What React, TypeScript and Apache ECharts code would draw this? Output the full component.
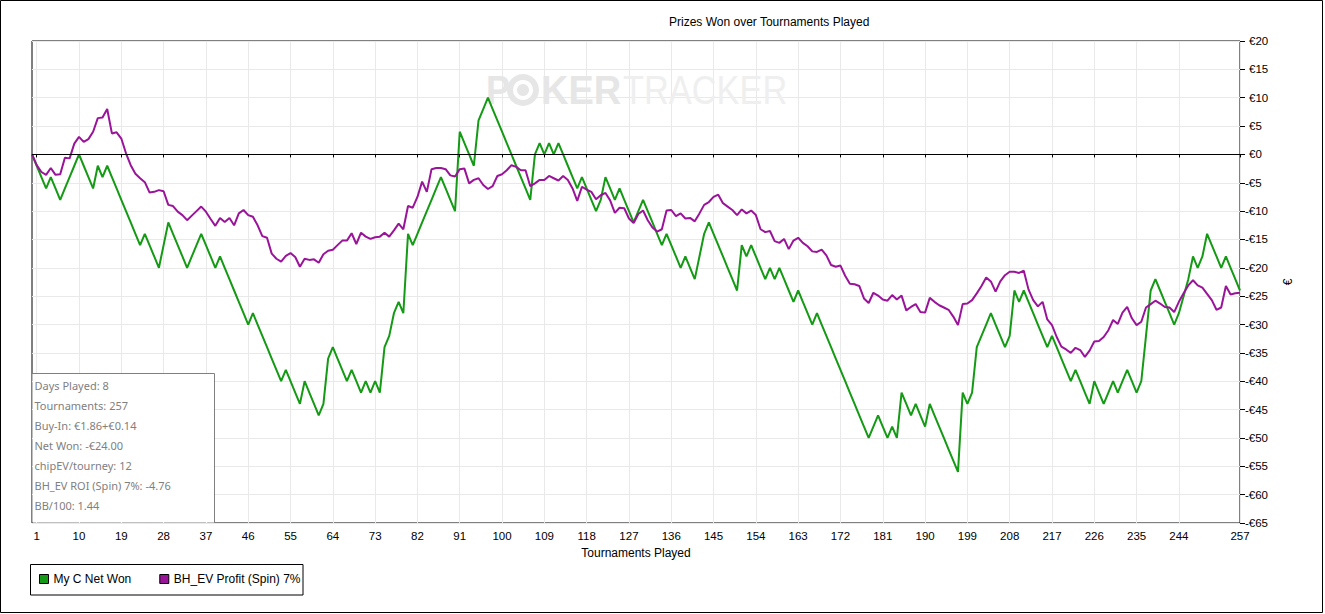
import React, { useEffect, useRef } from "react";
import * as echarts from "echarts";

// categories: tournament index 0..257 (0 = start)
const tournaments: string[] = Array.from({ length: 258 }, (_, i) => String(i));

const netWon: number[] = [
  0, -2, -4, -6, -4, -6, -8, -6, -4, -2,
  0, -2, -4, -6, -2, -4, -2, -4, -6, -8,
  -10, -12, -14, -16, -14, -16, -18, -20, -16, -12,
  -14, -16, -18, -20, -18, -16, -14, -16, -18, -20,
  -18, -20, -22, -24, -26, -28, -30, -28, -30, -32,
  -34, -36, -38, -40, -38, -40, -42, -44, -40, -42,
  -44, -46, -44, -36, -34, -36, -38, -40, -38, -40,
  -42, -40, -42, -40, -42, -34, -32, -28, -26, -28,
  -14, -16, -14, -12, -10, -8, -6, -4, -6, -8,
  -10, 4, 2, 0, -2, 6, 8, 10, 8, 6,
  4, 2, 0, -2, -4, -6, -8, 0, 2, 0,
  2, 0, 2, 0, -2, -4, -6, -4, -6, -8,
  -10, -8, -4, -6, -8, -6, -8, -10, -12, -10,
  -8, -10, -12, -14, -16, -14, -16, -18, -20, -18,
  -20, -22, -18, -14, -12, -14, -16, -18, -20, -22,
  -24, -16, -18, -16, -18, -20, -22, -20, -22, -20,
  -22, -24, -26, -24, -26, -28, -30, -28, -30, -32,
  -34, -36, -38, -40, -42, -44, -46, -48, -50, -48,
  -46, -48, -50, -48, -50, -42, -44, -46, -44, -46,
  -48, -44, -46, -48, -50, -52, -54, -56, -42, -44,
  -42, -34, -32, -30, -28, -30, -32, -34, -32, -24,
  -26, -24, -26, -28, -30, -32, -34, -32, -34, -36,
  -38, -40, -38, -40, -42, -44, -40, -42, -44, -42,
  -40, -42, -40, -38, -40, -42, -40, -32, -24, -22,
  -24, -26, -28, -30, -28, -25, -22, -18, -20, -18,
  -14, -16, -18, -20, -18, -20, -22, -24,
];

const evProfit: number[] = [
  0, -1.9, -3.1, -3.6, -2.4, -3.6, -3.5, -0.6, -0.7, 1.9,
  3.1, 2.2, 2.7, 4.0, 6.4, 6.5, 8.0, 3.7, 3.9, 2.8,
  0.2, -1.9, -3.4, -4.2, -4.9, -6.7, -6.6, -6.3, -6.5, -8.9,
  -9.1, -10.1, -10.7, -11.6, -10.8, -10, -9.2, -10.1, -11.4, -12.6,
  -11.2, -11.9, -11.2, -12.5, -10.4, -9.8, -10.7, -11, -12.5, -14.4,
  -14.7, -17.5, -18.4, -18.9, -17.9, -17.4, -18.1, -19.8, -18.4, -18.6,
  -18.5, -19.1, -17.6, -17, -16.8, -16, -15.2, -15.2, -13.9, -15.8,
  -13.8, -14.5, -14.9, -14.6, -14.5, -13.8, -14.5, -13.4, -12.2, -13.2,
  -9.1, -9.4, -7.5, -4.8, -6.6, -2.6, -2.4, -2.4, -2.6, -3.7,
  -3.9, -2.6, -2.5, -5.1, -4.5, -4.2, -5.4, -6.1, -5.6, -3.8,
  -3.5, -2.8, -1.9, -2.2, -2.8, -2.8, -5.6, -5.1, -4.5, -4.5,
  -3.8, -4.2, -4.6, -3.8, -4.5, -6, -8.2, -5.7, -6.2, -6.6,
  -7.9, -7.2, -6.8, -8.1, -10.3, -9.4, -9.5, -11.3, -12.1, -10.5,
  -9.9, -11.6, -12.9, -13.6, -13.2, -9.9, -9.8, -10.9, -10.4, -11.3,
  -11.2, -11.8, -10.4, -8.9, -8.4, -7.5, -7.1, -8.6, -9.2, -9.8,
  -10.7, -9.7, -10.4, -9.9, -10.7, -13.2, -13.7, -13.5, -15.3, -15.6,
  -14.9, -16.7, -15.2, -14.7, -15.6, -16.2, -17.1, -17.2, -16.8, -17.8,
  -19.5, -19.8, -19.6, -21.4, -22.8, -22.9, -23.2, -25.4, -26.2, -24.4,
  -24.9, -25.6, -25.8, -24.8, -25.6, -24.9, -27.5, -26.9, -26.4, -27.8,
  -27.9, -25.3, -26, -26.6, -27, -27.4, -28.6, -30.1, -26.4, -26.3,
  -25.7, -24.5, -23.2, -21.7, -22.4, -24.2, -22.4, -21.3, -20.7, -20.7,
  -20.9, -20.5, -23.8, -25.7, -26.8, -26, -29.1, -30.1, -32.2, -33.9,
  -34.4, -35, -34.1, -34.5, -35.7, -34.6, -33, -32.9, -32.2, -31,
  -29.2, -29.9, -27.9, -26.9, -28.9, -30.1, -29.5, -27, -26.4, -25.8,
  -26.3, -26.9, -27, -27.8, -26, -24.5, -23.1, -22.2, -23.1, -23.5,
  -24.6, -25.7, -27.4, -27, -23.2, -24.7, -24.5, -24.4,
];

const seriesNames: string[] = ["My C Net Won", "BH_EV Profit (Spin) 7%"];
const statsLines: string[] = [
  "Days Played: 8",
  "Tournaments: 257",
  "Buy-In: €1.86+€0.14",
  "Net Won: -€24.00",
  "chipEV/tourney: 12",
  "BH_EV ROI (Spin) 7%: -4.76",
  "BB/100: 1.44",
];
const yMin = -65;
const yMax = 20;
const yStep = 5;
const xLabelEvery = 9;
const xLastRegular = 244;
const xLast = 257;

const GREEN = "#149a14";
const PURPLE = "#9a149a";
const FONT = '"Liberation Sans", Arial, sans-serif';

const showTick = (idx: number) =>
  (idx >= 1 && (idx - 1) % xLabelEvery === 0 && idx <= xLastRegular) || idx === xLast;

function txt(x: number, y: number, text: string, opts: any = {}) {
  const align = opts.align || "left";
  return {
    type: "text",
    x,
    y,
    z: opts.z ?? 100,
    silent: true,
    scaleX: opts.scaleX ?? 1,
    style: {
      text,
      fill: opts.fill || "#000",
      fontSize: opts.fontSize || 12,
      fontFamily: opts.fontFamily || FONT,
      fontWeight: opts.fontWeight || "normal",
      align,
      verticalAlign: "middle",
      textAlign: align,
      textVerticalAlign: "middle",
    },
  };
}

export default function App() {
  const ref = useRef<HTMLDivElement>(null);

  useEffect(() => {
    if (!ref.current) return;
    const chart = echarts.init(ref.current, undefined, { renderer: "svg" });

    const graphic: any[] = [
      // outer frame
      {
        type: "rect",
        silent: true,
        z: 100,
        shape: { x: 0.5, y: 0.5, width: 1322, height: 612 },
        style: { fill: "none", stroke: "#000", lineWidth: 1 },
      },
      txt(669, 22, "Prizes Won over Tournaments Played", { fontSize: 12 }),
      // watermark
      txt(486, 90, "P", { fontSize: 40, fontWeight: "bold", fill: "#e6e6e6", z: 1, scaleX: 0.9 }),
      {
        type: "circle",
        silent: true,
        z: 1,
        shape: { cx: 523, cy: 90, r: 16 },
        style: { fill: "#e6e6e6" },
      },
      {
        type: "circle",
        silent: true,
        z: 1,
        shape: { cx: 523, cy: 90, r: 10 },
        style: { fill: "#ffffff" },
      },
      {
        type: "circle",
        silent: true,
        z: 1,
        shape: { cx: 523, cy: 90, r: 6 },
        style: { fill: "#e6e6e6" },
      },
      txt(541, 90, "KER", { fontSize: 40, fontWeight: "bold", fill: "#e6e6e6", z: 1, scaleX: 0.95 }),
      txt(623, 90, "TRACKER", { fontSize: 40, fill: "#efefef", z: 1, scaleX: 0.86 }),
      // stats box
      {
        type: "rect",
        silent: true,
        z: 90,
        shape: { x: 32.5, y: 373.5, width: 181.5, height: 149 },
        style: { fill: "#ffffff" },
      },
      {
        type: "polyline",
        silent: true,
        z: 91,
        shape: { points: [[32, 373.5], [214.5, 373.5], [214.5, 523]] },
        style: { fill: "none", stroke: "#808080", lineWidth: 1 },
      },
      ...statsLines.map((s, i) =>
        txt(34.5, 385.7 + i * 20, s, { fill: "#808080", fontSize: 11, fontFamily: '"Noto Sans", sans-serif' })
      ),
      // legend frame
      {
        type: "rect",
        silent: true,
        z: 100,
        shape: { x: 30.5, y: 564.5, width: 272.5, height: 30.5 },
        style: { fill: "none", stroke: "#000", lineWidth: 1 },
      },
    ];

    chart.setOption({
      animation: false,
      backgroundColor: "#fff",
      textStyle: { fontFamily: FONT },
      grid: {
        left: 32,
        right: 85,
        top: 41,
        bottom: 91,
        show: true,
        borderColor: "#000",
        borderWidth: 1,
        backgroundColor: "transparent",
      },
      legend: {
        data: seriesNames,
        left: 39,
        top: 573,
        padding: 0,
        icon: "rect",
        itemWidth: 9,
        itemHeight: 9,
        itemGap: 28,
        itemStyle: { borderColor: "#000", borderWidth: 1 },
        textStyle: { fontSize: 12, color: "#000", fontFamily: FONT },
        selectedMode: false,
      },
      xAxis: {
        type: "category",
        data: tournaments,
        boundaryGap: false,
        axisLine: { show: false },
        axisTick: { show: true, interval: showTick, length: 3, lineStyle: { color: "#000" } },
        axisLabel: { interval: showTick, color: "#000", fontSize: 11.5, margin: 7, fontFamily: FONT },
        splitLine: { show: true, interval: showTick, lineStyle: { color: "#e9e9e9", width: 1 } },
        name: "Tournaments Played",
        nameLocation: "middle",
        nameGap: 23,
        nameTextStyle: { color: "#000", fontSize: 12, fontFamily: FONT },
      },
      yAxis: {
        type: "value",
        position: "right",
        min: yMin,
        max: yMax,
        interval: yStep,
        axisLine: { show: false },
        axisTick: { show: true, length: 5, lineStyle: { color: "#000" } },
        axisLabel: {
          color: "#000",
          fontSize: 11.5,
          margin: 5,
          fontFamily: FONT,
          formatter: (v: number) => (v < 0 ? "-€" + -v : "{p|€" + v + "}"),
          rich: { p: { padding: [0, 0, 0, 4], fontSize: 11.5, color: "#000", fontFamily: FONT } },
        },
        splitLine: { show: true, lineStyle: { color: "#e9e9e9", width: 1 } },
        name: "€",
        nameLocation: "middle",
        nameRotate: 90,
        nameGap: 42,
        nameTextStyle: { color: "#000", fontSize: 12, fontFamily: FONT },
      },
      series: [
        {
          name: seriesNames[0],
          type: "line",
          data: netWon,
          symbol: "none",
          lineStyle: { width: 2, color: GREEN },
          itemStyle: { color: GREEN },
          z: 3,
          markLine: {
            silent: true,
            symbol: ["none", "none"],
            label: { show: false },
            lineStyle: { color: "#000", width: 1, type: "solid" },
            data: [{ yAxis: 0 }],
          },
        },
        {
          name: seriesNames[1],
          type: "line",
          data: evProfit,
          symbol: "none",
          lineStyle: { width: 2, color: PURPLE },
          itemStyle: { color: PURPLE },
          z: 4,
        },
      ],
      graphic,
    });

    return () => chart.dispose();
  }, []);

  return (
    <div
      ref={ref}
      style={{ position: "fixed", left: 0, top: 0, width: 1325, height: 614, background: "#fff" }}
    />
  );
}
